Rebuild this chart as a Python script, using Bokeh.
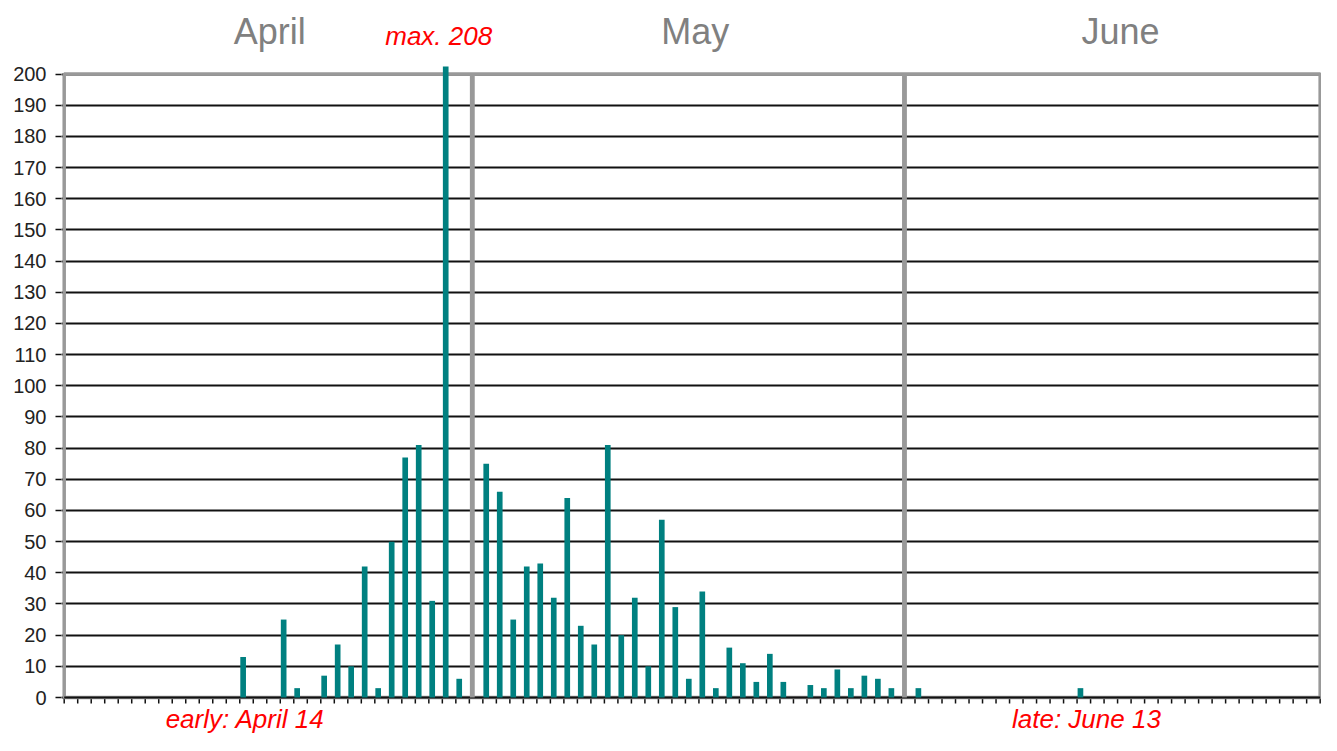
from bokeh.plotting import figure
from bokeh.models import Range1d, FixedTicker, Label
from bokeh.embed import file_html
from bokeh.resources import INLINE

# ---- data ----
months = ["April", "May", "June"]
month_days = [30, 31, 30]
april_counts = [0, 0, 0, 0, 0, 0, 0, 0, 0, 0, 0, 0, 0,
                13, 0, 0, 25, 3, 0, 7, 17, 10, 42, 3, 50, 77, 81, 31, 208, 6]
may_counts = [75, 66, 25, 42, 43, 32, 64, 23, 17, 81, 20, 32, 10, 57, 29, 6,
              34, 3, 16, 11, 5, 14, 5, 0, 4, 3, 9, 3, 7, 6, 3]
june_counts = [3, 0, 0, 0, 0, 0, 0, 0, 0, 0, 0, 0, 3, 0, 0,
               0, 0, 0, 0, 0, 0, 0, 0, 0, 0, 0, 0, 0, 0, 0]
y_ticks = [0, 10, 20, 30, 40, 50, 60, 70, 80, 90, 100,
           110, 120, 130, 140, 150, 160, 170, 180, 190, 200]
early_text = "early: April 14"
late_text = "late: June 13"
max_text = "max. 208"

# ---- build category positions (one gap category between months) ----
series = [april_counts, may_counts, june_counts]
xs, counts, sep_x, centers = [], [], [], []
pos = 0
for m, days in enumerate(month_days):
    centers.append(pos + days / 2)
    for d in range(days):
        xs.append(pos + d)
        counts.append(series[m][d])
    pos += days
    if m < len(month_days) - 1:
        sep_x.append(pos)
        pos += 1
n_cats = pos
y_top = y_ticks[-1]

nonzero = [i for i, c in enumerate(counts) if c > 0]
i_first, i_last = nonzero[0], nonzero[-1]
i_max = counts.index(max(counts))

# ---- layout: frame fills the canvas, y=0 at 697px, y=200 at 73.5px ----
W, H = 1321, 735
px_per_unit = (697 - 73.5) / y_top
y_lo = -(H - 697) / px_per_unit
y_hi = 697 / px_per_unit
ceiling = (697 - 66) / px_per_unit       # plot area ceiling (bars clipped here)
tick_len = 6 / px_per_unit


def y_at(px):
    return (697 - px) / px_per_unit


p = figure(width=W, height=H,
           x_range=Range1d(-0.2, n_cats + 0.1), y_range=Range1d(y_lo, y_hi),
           output_backend="svg", toolbar_location=None,
           x_axis_location=None,
           min_border_left=61, min_border_right=0,
           min_border_top=0, min_border_bottom=0)
p.outline_line_color = None
p.background_fill_color = "white"
p.border_fill_color = "white"

# grid
p.xgrid.grid_line_color = None
p.ygrid.ticker = FixedTicker(ticks=y_ticks)
p.ygrid.grid_line_color = "#111111"
p.ygrid.grid_line_width = 2

# y axis
p.yaxis.ticker = FixedTicker(ticks=y_ticks)
p.yaxis.axis_line_color = None
p.yaxis.major_tick_line_color = "#111111"
p.yaxis.major_tick_line_width = 1.5
p.yaxis.major_tick_out = 6
p.yaxis.major_tick_in = 0
p.yaxis.minor_tick_line_color = None
p.yaxis.major_label_standoff = 9
p.yaxis.major_label_text_font = "Liberation Sans"
p.yaxis.major_label_text_font_size = "20px"
p.yaxis.major_label_text_color = "#222222"

# day ticks under the x baseline
day_edges = list(range(0, n_cats + 1))
p.segment(x0=day_edges, x1=day_edges, y0=[0] * len(day_edges),
          y1=[-tick_len] * len(day_edges), line_color="#111111", line_width=1.5)

# plot-area border
p.quad(left=0, right=n_cats, bottom=0, top=y_top, fill_color=None,
       line_color="#999999", line_width=3.5)
# baseline
p.segment(x0=[0], x1=[n_cats], y0=[0], y1=[0], line_color="#111111", line_width=2)

# month separators
p.vbar(x=[s + 0.22 for s in sep_x], top=y_top, bottom=0, width=0.36,
       fill_color="#999999", line_color=None)

# bars (drawn up to the plot-area ceiling, like the original)
p.vbar(x=[x + 0.25 for x in xs], top=[min(c, ceiling) for c in counts],
       bottom=0, width=0.42, fill_color="#008080", line_color=None)

# month labels
for name, c in zip(months, centers):
    p.add_layout(Label(x=c, y=y_at(31), x_offset=3, text=name, text_align="center",
                       text_baseline="alphabetic", text_font="Liberation Sans",
                       text_font_size="36px", text_color="#808080"))

# annotations
red_style = dict(text_align="center", text_baseline="alphabetic",
                 text_font="Liberation Sans", text_font_style="italic",
                 text_font_size="26px", text_color="#ff0000")
p.add_layout(Label(x=xs[i_max] + 0.25, y=y_at(35.5), x_offset=-7, text=max_text,
                   **red_style))
p.add_layout(Label(x=xs[i_first] + 0.25, y=y_at(718), x_offset=2, text=early_text,
                   **red_style))
p.add_layout(Label(x=xs[i_last] + 0.25, y=y_at(718), x_offset=6, text=late_text,
                   **red_style))

open("out.html", "w").write(file_html(p, INLINE))
